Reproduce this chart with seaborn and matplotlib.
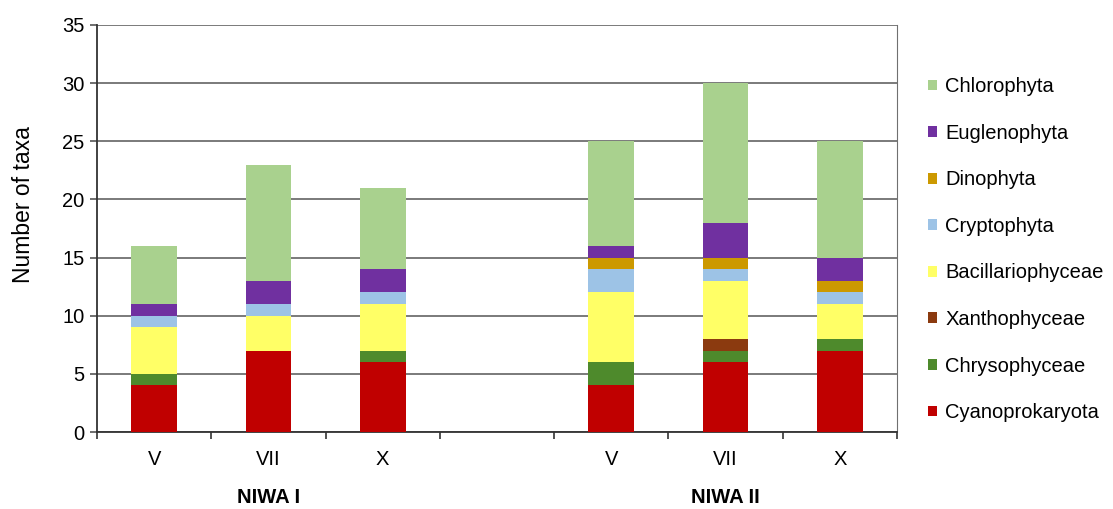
import matplotlib
matplotlib.use("Agg")
import matplotlib.pyplot as plt
import seaborn as sns
import pandas as pd
import numpy as np
from matplotlib.patches import Patch

months = ["V", "VII", "X", "", "V", "VII", "X"]
slots = ["I-V", "I-VII", "I-X", "gap", "II-V", "II-VII", "II-X"]
groups = ["NIWA I", "NIWA II"]

taxa = ["Cyanoprokaryota", "Chrysophyceae", "Xanthophyceae", "Bacillariophyceae",
        "Cryptophyta", "Dinophyta", "Euglenophyta", "Chlorophyta"]
colors = ["#C00000", "#4E8A2C", "#8B3A0F", "#FFFF66",
          "#9DC3E6", "#CC9900", "#7030A0", "#A9D18E"]

cyanoprokaryota   = [4, 7, 6, 0, 4, 6, 7]
chrysophyceae     = [1, 0, 1, 0, 2, 1, 1]
xanthophyceae     = [0, 0, 0, 0, 0, 1, 0]
bacillariophyceae = [4, 3, 4, 0, 6, 5, 3]
cryptophyta       = [1, 1, 1, 0, 2, 1, 1]
dinophyta         = [0, 0, 0, 0, 1, 1, 1]
euglenophyta      = [1, 2, 2, 0, 1, 3, 2]
chlorophyta       = [5, 10, 7, 0, 9, 12, 10]

values = [cyanoprokaryota, chrysophyceae, xanthophyceae, bacillariophyceae,
          cryptophyta, dinophyta, euglenophyta, chlorophyta]

df = pd.DataFrame(np.array(values).T, columns=taxa)
df["slot"] = slots
cum = df[taxa].cumsum(axis=1)
cum["slot"] = slots

plt.rcParams["font.family"] = ["Liberation Sans", "DejaVu Sans"]
fig = plt.figure(figsize=(11.13, 5.09), dpi=100)
ax = fig.add_axes([97/1113, 77/509, 800/1113, 407/509])

for t, c in reversed(list(zip(taxa, colors))):
    sns.barplot(data=cum, x="slot", y=t, order=slots, color=c, width=0.4,
                linewidth=0, saturation=1, ax=ax, zorder=3)

ax.set_xlim(-0.5, 6.5)
ax.set_ylim(0, 35)
ax.set_yticks(np.arange(0, 36, 5))
ax.grid(axis="y", color="#707070", linewidth=1.3, zorder=0)
ax.set_axisbelow(True)
ax.set_xticks(range(7))
ax.set_xticklabels(months, fontsize=14.5)
ax.tick_params(axis="x", length=0, pad=13)
ax.set_xticks(np.arange(-0.5, 7, 1), minor=True)
ax.tick_params(axis="x", which="minor", length=5, width=1.2, color="#333333", direction="out")
ax.tick_params(axis="y", length=5, width=1.2, color="#555555", labelsize=14.5, pad=4)
ax.set_xlabel("")
ax.set_ylabel("Number of taxa", fontsize=16.5)
ax.yaxis.set_label_coords(-0.077, 0.558)
for s in ["left", "bottom"]:
    ax.spines[s].set_color("#333333")
    ax.spines[s].set_linewidth(1.3)
ax.spines["right"].set_color("#707070")
ax.spines["top"].set_visible(False)

ax.text(1, -0.162, groups[0], transform=ax.get_xaxis_transform(), ha="center",
        va="center", fontsize=14.5, fontweight="bold")
ax.text(5, -0.162, groups[1], transform=ax.get_xaxis_transform(), ha="center",
        va="center", fontsize=14.5, fontweight="bold")

handles = [Patch(facecolor=c, edgecolor="none") for c in reversed(colors)]
fig.legend(handles, list(reversed(taxa)), loc="upper left",
           bbox_to_anchor=(910/1113, 1 - 59/509), frameon=False, fontsize=14.5,
           handlelength=0.45, handleheight=0.45, handletextpad=0.4, labelspacing=1.37)

fig.savefig("out.png", dpi=100)
